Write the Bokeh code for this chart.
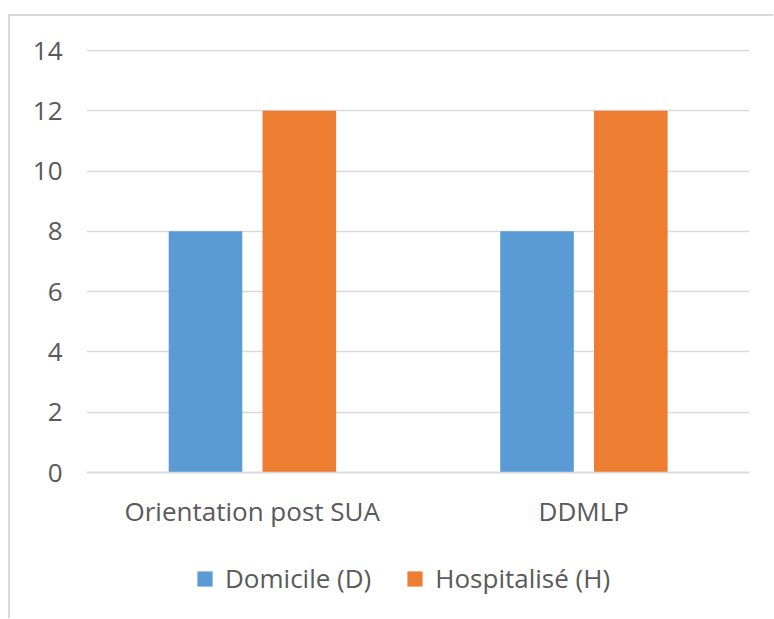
from bokeh.plotting import figure
from bokeh.models import (ColumnDataSource, FactorRange, Range1d, FixedTicker,
                          Legend, LegendItem)
from bokeh.transform import dodge
from bokeh.embed import file_html
from bokeh.resources import INLINE

categories = ["Orientation post SUA", "DDMLP"]
domicile = [8, 8]
hospitalise = [12, 12]
series_names = ["Domicile (D)", "Hospitalisé (H)"]
y_ticks = [0, 2, 4, 6, 8, 10, 12, 14]

FONT = "Open Sans"
FS = "26px"
TXT = "#595959"
GRID = "#d9d9d9"

source = ColumnDataSource(dict(cat=categories, dom=domicile, hosp=hospitalise))

PX_PER_UNIT = 422 / 14
y_top = 14 + 1 / PX_PER_UNIT          # 1px headroom so the 14 gridline shows
y_bottom = -140 / PX_PER_UNIT         # room under zero for labels and legend

p = figure(x_range=FactorRange(factors=categories, range_padding=0),
           y_range=Range1d(y_bottom, y_top),
           frame_width=663, frame_height=563,
           min_border_left=76, min_border_right=24,
           min_border_top=33, min_border_bottom=6,
           output_backend="svg", toolbar_location=None,
           background_fill_color="white", border_fill_color="white")
p.outline_line_color = None
p.styles = {"margin-left": "8px", "margin-top": "14px",
            "border-left": "2px solid #d9d9d9",
            "border-top": "2px solid #d9d9d9"}

r1 = p.vbar(x=dodge("cat", -0.141, range=p.x_range), top="dom", width=0.222,
            source=source, fill_color="#5b9bd5", line_color=None)
r2 = p.vbar(x=dodge("cat", 0.142, range=p.x_range), top="hosp", width=0.222,
            source=source, fill_color="#ed7d31", line_color=None)

# axes
p.yaxis.ticker = FixedTicker(ticks=y_ticks)
p.yaxis.axis_line_color = None
p.yaxis.major_tick_line_color = None
p.yaxis.minor_tick_line_color = None
p.yaxis.major_tick_out = 0
p.yaxis.major_tick_in = 0
p.yaxis.major_label_standoff = 24
p.yaxis.major_label_text_font = FONT
p.yaxis.major_label_text_font_size = FS
p.yaxis.major_label_text_color = TXT

p.xaxis.fixed_location = 0
p.xaxis.axis_line_color = GRID
p.xaxis.axis_line_width = 1.5
p.xaxis.major_tick_line_color = None
p.xaxis.minor_tick_line_color = None
p.xaxis.major_tick_out = 0
p.xaxis.major_tick_in = 0
p.xaxis.major_label_standoff = 20
p.xaxis.major_label_text_font = FONT
p.xaxis.major_label_text_font_size = FS
p.xaxis.major_label_text_color = TXT

p.xgrid.grid_line_color = None
p.ygrid.ticker = FixedTicker(ticks=y_ticks)
p.ygrid.grid_line_color = GRID
p.ygrid.grid_line_width = 1.5

legend = Legend(items=[LegendItem(label=series_names[0], renderers=[r1]),
                       LegendItem(label=series_names[1], renderers=[r2])],
                orientation="horizontal", location=(109, 16),
                glyph_width=19, glyph_height=19, label_standoff=11,
                spacing=34, padding=0, margin=0,
                border_line_color=None, background_fill_alpha=0,
                label_text_font=FONT, label_text_font_size=FS,
                label_text_color=TXT)
p.add_layout(legend, "center")

open("out.html", "w").write(file_html(p, INLINE))
